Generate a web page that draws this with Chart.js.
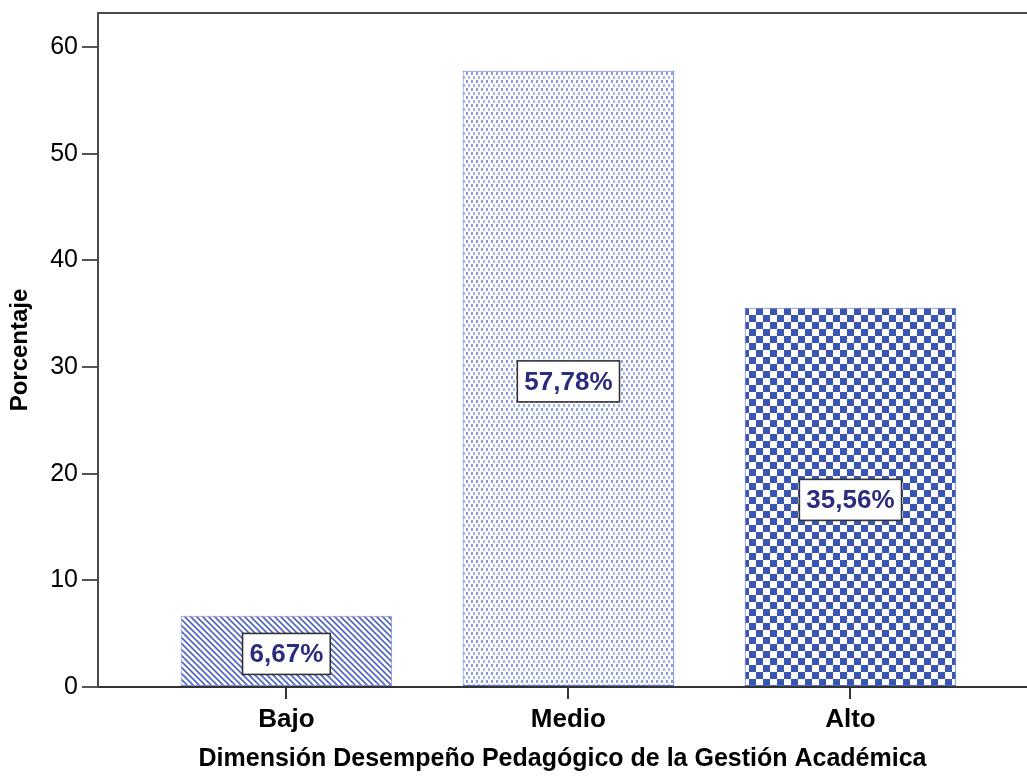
<!DOCTYPE html>
<html>
<head>
<meta charset="utf-8">
<script src="https://cdn.jsdelivr.net/npm/chart.js@4.4.1/dist/chart.umd.min.js"></script>
<style>
  html, body { margin: 0; padding: 0; background: #ffffff; overflow: hidden; }
  #chart { display: block; }
</style>
</head>
<body>
<canvas id="chart" width="1027" height="783"></canvas>
<script>
// Categories and percentages
const categories = ['Bajo', 'Medio', 'Alto'];
const percentages = [6.67, 57.78, 35.56];
const yTicks = [0, 10, 20, 30, 40, 50, 60];

const FONT = '"Liberation Sans", Arial, sans-serif';

// Fill textures for each bar
function makePattern(w, h, draw) {
  const c = document.createElement('canvas');
  c.width = w; c.height = h;
  const g = c.getContext('2d');
  g.fillStyle = '#ffffff';
  g.fillRect(0, 0, w, h);
  draw(g, w, h);
  return g.createPattern(c, 'repeat');
}

const ctx0 = document.getElementById('chart').getContext('2d');

// Diagonal hatching (\\\)
const hatch = makePattern(6, 6, (g, w, h) => {
  g.strokeStyle = '#4f64c2';
  g.lineWidth = 1.6;
  g.beginPath();
  g.moveTo(-1, -1); g.lineTo(w + 1, h + 1);
  g.moveTo(-1 - w, -1); g.lineTo(1, h + 1);
  g.moveTo(w - 1, -1); g.lineTo(2 * w + 1, h + 1);
  g.stroke();
});

// Fine dotted texture
const dots = makePattern(10, 8, (g) => {
  g.fillStyle = '#8a9be0';
  g.fillRect(1, 0, 2, 3);
  g.fillRect(6, 0, 2, 3);
  g.fillStyle = '#a5b3ea';
  g.fillRect(3, 4, 2, 3);
  g.fillRect(8, 4, 2, 3);
});

// Checkerboard
const checker = makePattern(14, 14, (g) => {
  g.fillStyle = '#3b55b3';
  g.fillRect(0, 0, 7, 7);
  g.fillRect(7, 7, 7, 7);
});

const fills = [hatch, dots, checker];
const borders = ['#7d8fd8', '#5f76cc', '#5068c0'];

// Frame line along the top of the plotting area
const framePlugin = {
  id: 'frame',
  afterDraw(chart) {
    const { ctx, chartArea } = chart;
    ctx.save();
    ctx.strokeStyle = '#4a4a4a';
    ctx.lineWidth = 2;
    ctx.beginPath();
    ctx.moveTo(chartArea.left - 1, chartArea.top);
    ctx.lineTo(chart.width, chartArea.top);
    ctx.stroke();
    ctx.restore();
  }
};

// Boxed value labels in the middle of each bar
const valueLabels = {
  id: 'valueLabels',
  afterDatasetsDraw(chart) {
    const { ctx } = chart;
    const meta = chart.getDatasetMeta(0);
    ctx.save();
    ctx.font = 'bold 26px ' + FONT;
    ctx.textAlign = 'center';
    ctx.textBaseline = 'middle';
    meta.data.forEach((bar, i) => {
      const v = chart.data.datasets[0].data[i].y;
      const text = v.toFixed(2).replace('.', ',') + '%';
      const cx = bar.x;
      const cy = (bar.y + bar.base) / 2 + 3;
      const tw = ctx.measureText(text).width;
      const bw = tw + 14, bh = 41;
      ctx.fillStyle = '#ffffff';
      ctx.fillRect(cx - bw / 2, cy - bh / 2, bw, bh);
      ctx.strokeStyle = '#333333';
      ctx.lineWidth = 1.6;
      ctx.strokeRect(cx - bw / 2, cy - bh / 2, bw, bh);
      ctx.fillStyle = '#2b2c7c';
      ctx.fillText(text, cx, cy + 1);
    });
    ctx.restore();
  }
};

new Chart(ctx0, {
  type: 'bar',
  data: {
    datasets: [{
      data: categories.map((c, i) => ({ x: i, y: percentages[i] })),
      backgroundColor: fills,
      borderColor: borders,
      borderWidth: 1,
      borderSkipped: false,
      barPercentage: 0.75,
      categoryPercentage: 1
    }]
  },
  options: {
    responsive: false,
    animation: false,
    devicePixelRatio: 1,
    layout: { padding: { top: 13, right: 0, left: 0, bottom: 0 } },
    plugins: {
      legend: { display: false },
      tooltip: { enabled: false }
    },
    scales: {
      x: {
        type: 'linear',
        offset: false,
        min: -0.668,
        max: 2.626,
        afterBuildTicks(scale) {
          scale.ticks = categories.map((c, i) => ({ value: i }));
        },
        afterFit(scale) { scale.height = 96; },
        ticks: {
          callback: (v) => categories[v],
          color: '#000000',
          font: { family: FONT, size: 26, weight: 'bold' },
          padding: 5,
          maxRotation: 0
        },
        grid: {
          display: true,
          offset: false,
          drawOnChartArea: false,
          drawTicks: true,
          tickLength: 12,
          color: '#333333',
          lineWidth: 2
        },
        border: { display: true, color: '#333333', width: 2 },
        title: {
          display: true,
          text: 'Dimensión Desempeño Pedagógico de la Gestión Académica',
          color: '#000000',
          font: { family: FONT, size: 25, weight: 'bold' },
          padding: { top: 0, bottom: 9 }
        }
      },
      y: {
        min: 0,
        max: 63.2,
        afterBuildTicks(scale) {
          scale.ticks = yTicks.map(v => ({ value: v }));
        },
        afterFit(scale) {
          scale.width = 98;
          scale.paddingTop = 0;
          scale.paddingBottom = 0;
        },
        ticks: {
          color: '#000000',
          font: { family: FONT, size: 25 },
          padding: 4
        },
        grid: {
          display: true,
          drawOnChartArea: false,
          drawTicks: true,
          tickLength: 16,
          color: '#555555',
          lineWidth: 2
        },
        border: { display: true, color: '#4a4a4a', width: 2 },
        title: {
          display: true,
          text: 'Porcentaje',
          color: '#000000',
          font: { family: FONT, size: 24, weight: 'bold' },
          padding: { top: 6, bottom: 0 }
        }
      }
    }
  },
  plugins: [framePlugin, valueLabels]
});
</script>
</body>
</html>
